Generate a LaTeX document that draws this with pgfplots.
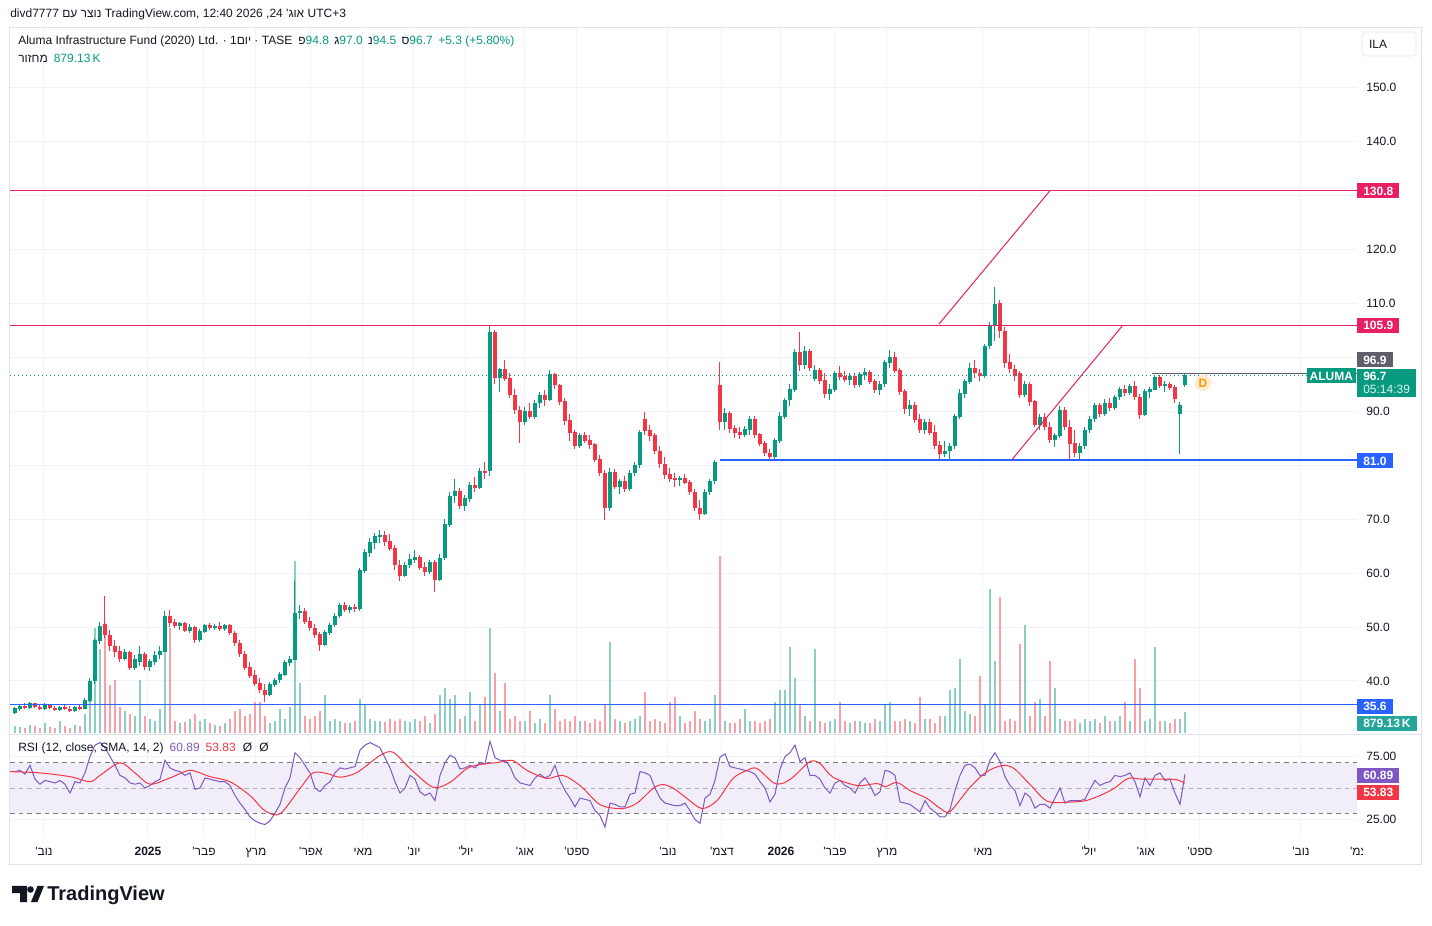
\documentclass[border=0pt]{standalone}
\usepackage{fontspec}
\setmainfont{Liberation Sans}
\newfontfamily\hebfont[Script=Hebrew]{Liberation Sans}
\usepackage{pgfplots}
\pgfplotsset{compat=1.18}
\usepackage{pgfplotstable}
\TeXXeTstate=1
\newcommand{\heb}[1]{{\hebfont\beginR #1\endR}}
\newcommand{\fnt}{\fontsize{9}{11}\selectfont}
\definecolor{upc}{RGB}{8,153,129}
\definecolor{dnc}{RGB}{242,54,69}
\definecolor{vupc}{RGB}{140,206,195}
\definecolor{vdnc}{RGB}{249,160,167}
\definecolor{pinkc}{RGB}{233,30,99}
\definecolor{bluec}{RGB}{41,98,255}
\definecolor{gridc}{RGB}{240,243,250}
\definecolor{framec}{RGB}{224,227,235}
\definecolor{txtc}{RGB}{19,23,34}
\definecolor{rsic}{RGB}{126,87,194}
\definecolor{bandc}{RGB}{242,238,249}
\definecolor{dashc}{RGB}{120,123,134}
\definecolor{grayc}{RGB}{93,96,107}
\definecolor{tealc}{RGB}{38,166,154}
\definecolor{orangec}{RGB}{255,152,0}

\pgfplotstableread{
x o h l c v r
15 34.2 35.2 33.8 34.9 300 63
20 34.9 35.6 34.5 35.3 250 64
25 35.3 35.9 34.8 35.0 200 61
30 35.0 36.1 34.9 35.9 350 68
35 35.9 36.0 35.0 35.2 300 57
40 35.2 35.5 34.6 34.8 200 53
45 34.8 35.9 34.7 35.7 400 56
50 35.6 35.8 34.9 35.0 250 55
55 35.0 35.4 34.5 34.7 200 54
60 34.7 35.4 34.4 35.2 500 56
65 35.2 35.6 34.6 34.8 300 53
70 34.8 35.3 34.2 34.5 200 46
75 34.5 35.4 34.3 35.1 350 55
80 35.1 35.5 34.6 34.9 300 54
85 34.9 36.8 34.8 36.4 800 62
90 36.4 40.5 36.2 40.0 1500 75
95 40.0 48.0 39.5 47.5 4400 84
100 47.5 51.0 46.8 50.2 3500 86
105 50.5 55.8 48.0 48.5 4600 82
110 48.5 49.5 45.5 46.5 2000 75
115 46.5 47.5 44.5 45.5 2200 68
120 45.5 46.5 43.5 44.2 1100 60
125 44.2 46.0 43.8 45.3 900 58
130 45.3 45.6 42.0 42.5 800 54
135 42.5 44.8 42.0 44.0 700 53
140 43.5 46.5 42.8 45.0 2200 54
145 45.0 45.3 42.0 42.6 700 50
150 42.6 44.0 41.8 43.6 600 52
155 43.6 45.5 43.0 44.8 500 55
160 44.8 46.5 44.0 45.5 1000 57
165 45.5 53.0 45.3 52.0 4400 72
170 52.0 53.2 50.0 50.8 4400 66
175 50.8 51.5 49.8 50.2 500 64
180 50.2 51.0 49.5 50.6 400 63
185 50.6 51.0 49.0 49.4 450 60
190 49.4 50.5 48.8 50.0 600 62
195 50.0 50.2 47.0 47.6 800 49
200 47.6 49.6 47.3 49.2 500 50
205 49.2 50.6 48.8 50.3 600 58
210 50.3 50.8 49.4 49.8 400 57
215 49.8 50.6 49.5 50.2 350 56
220 50.2 50.9 49.2 49.6 300 55
225 49.6 50.6 49.3 50.3 400 55
230 50.3 50.5 48.6 48.9 600 52
235 48.9 49.3 46.5 47.0 900 44
240 47.0 47.5 44.5 45.0 1000 38
245 45.0 45.5 42.0 42.5 700 33
250 42.5 43.5 40.5 41.0 800 27
255 41.0 42.0 39.0 39.5 1300 24
260 39.5 40.5 37.8 38.3 1300 22
265 38.3 39.5 36.2 37.5 700 21
270 37.5 39.8 37.2 39.4 400 24
275 39.4 40.6 38.8 40.2 500 30
280 40.2 41.6 39.6 41.2 1000 37
285 41.2 43.8 41.0 43.4 600 50
290 43.4 44.6 42.8 44.0 1100 58
295 44.0 58.5 43.8 52.6 7200 78
300 52.6 54.0 51.5 53.0 2100 74
305 53.0 53.5 50.5 51.0 700 68
310 51.0 51.8 49.2 49.8 600 62
315 49.8 50.5 48.0 48.6 700 50
320 48.6 49.0 45.6 46.8 900 47
325 46.8 49.5 46.5 49.0 1600 52
330 49.0 50.8 48.6 50.4 500 55
335 50.4 52.5 50.0 52.0 600 62
340 52.0 54.5 51.6 54.0 500 66
345 54.0 54.6 52.8 53.2 400 65
350 53.2 54.0 52.6 53.6 400 66
355 53.6 54.2 52.8 53.4 500 67
360 53.4 61.0 53.0 60.5 1400 80
365 60.5 64.5 60.0 63.8 1200 84
370 63.8 66.5 63.0 65.6 600 86
375 65.6 67.5 64.5 66.8 500 84
380 66.8 68.0 65.5 67.0 500 82
385 67.0 67.8 65.0 65.8 450 74
390 65.8 67.2 64.0 64.5 600 66
395 64.5 65.2 60.5 61.5 500 55
400 61.5 62.5 58.5 59.5 600 46
405 59.5 62.0 59.2 61.5 500 50
410 61.5 63.5 61.0 62.5 450 60
415 62.5 64.2 61.8 63.0 600 57
420 63.0 63.4 60.5 61.0 500 47
425 61.0 62.0 59.5 60.3 700 44
430 60.3 62.5 59.8 62.0 400 46
435 62.0 62.4 56.5 58.8 800 40
440 58.8 63.5 58.5 62.8 1600 60
445 62.8 70.0 62.5 69.0 1900 70
450 69.0 75.0 68.5 74.3 1400 76
455 74.3 77.5 73.0 75.2 1600 74
460 75.2 75.8 71.8 72.4 600 65
465 72.4 74.5 71.5 73.8 700 66
470 73.8 76.8 73.2 76.2 1700 68
475 76.2 77.8 75.0 75.8 500 66
480 75.8 79.5 75.5 78.8 1200 70
485 78.8 80.5 77.5 78.5 1500 69
490 79.0 106.0 78.0 104.5 4400 87
495 104.5 105.0 95.0 96.2 2500 74
500 96.2 98.0 93.6 97.8 900 72
505 97.8 99.5 95.5 96.0 2100 72
510 96.0 97.0 92.5 93.0 600 67
515 93.0 94.0 89.5 90.2 700 58
520 90.2 91.0 84.0 88.0 500 54
525 88.0 90.8 87.5 90.0 500 53
530 90.0 91.5 88.5 89.0 900 52
535 89.0 92.0 88.6 91.5 400 58
540 91.5 93.6 90.5 93.0 600 61
545 93.0 93.8 91.0 92.0 400 58
550 92.0 97.6 91.8 96.8 1600 60
555 96.8 97.0 94.0 94.8 1000 68
560 94.8 95.0 91.2 91.8 500 56
565 91.8 92.5 87.5 88.2 600 48
570 88.2 89.5 84.5 86.0 500 42
575 86.0 86.5 83.0 83.5 700 35
580 83.5 86.0 83.2 85.5 500 42
585 85.5 86.2 84.0 84.5 500 41
590 84.5 85.5 83.0 83.8 400 40
595 83.8 84.0 80.5 81.0 600 32
600 81.0 81.8 78.0 78.5 500 28
605 78.5 79.0 69.8 72.0 1200 19
610 72.0 79.5 71.5 78.6 3800 38
615 78.6 79.2 75.5 76.0 600 37
620 76.0 77.5 74.6 77.0 500 35
625 77.0 78.0 75.0 75.6 400 35
630 75.6 79.0 75.2 78.5 500 45
635 78.5 80.6 78.0 80.0 600 46
640 80.0 86.5 79.5 86.0 700 63
645 88.5 89.8 85.5 86.4 1700 62
650 86.4 87.5 84.5 85.5 500 60
655 85.5 86.0 82.0 82.6 600 50
660 82.6 83.5 79.5 80.2 500 42
665 80.2 81.5 77.5 78.2 400 38
670 78.2 79.5 76.8 77.5 1300 37
675 77.5 78.5 76.0 77.2 1500 36
680 77.2 78.0 76.2 77.6 700 36
685 77.6 78.3 76.4 76.8 400 38
690 76.8 77.2 74.5 75.0 500 32
695 75.0 75.5 71.5 72.0 900 25
700 72.0 73.5 69.8 71.0 600 22
705 71.0 75.5 70.8 75.0 500 42
710 75.0 77.5 74.5 77.0 600 45
715 77.0 81.0 76.5 80.5 1600 56
720 94.8 99.0 86.5 88.0 7400 74.5
725 88.0 90.5 86.5 89.5 500 77
730 89.5 90.0 86.0 86.8 400 67
735 86.8 87.5 85.0 86.0 400 66
740 86.0 87.0 84.8 85.6 600 65
745 85.6 87.2 85.2 86.6 1000 64
750 86.6 89.0 85.5 88.5 500 63
755 88.5 89.0 85.0 85.6 500 61
760 85.6 86.0 83.5 84.0 400 55
765 84.0 84.5 81.6 82.2 500 50
770 82.2 83.0 81.0 81.6 600 39
775 81.6 85.0 81.2 84.5 1300 45
780 84.5 89.8 84.0 89.0 1800 65
785 89.0 92.5 88.5 92.0 1800 75
790 92.0 95.0 91.0 94.0 3600 78
795 94.0 101.5 93.5 100.8 2300 84
800 100.8 104.6 97.5 98.5 1200 71
805 98.5 102.0 97.8 101.0 700 74
810 101.0 101.5 97.5 98.0 500 60
815 96.0 98.6 95.5 97.6 3500 60
820 97.6 98.0 95.0 95.6 500 57
825 95.6 97.0 92.5 93.2 400 50
830 93.2 95.0 92.0 94.0 500 46
835 94.0 97.5 93.5 97.0 600 54
840 97.0 98.3 95.8 96.4 1300 56
845 96.4 97.4 95.4 95.8 500 52
850 95.8 97.0 94.8 96.5 400 50
855 96.5 97.0 94.2 94.8 500 46
860 94.8 97.2 94.5 96.8 500 54
865 96.8 98.0 95.8 97.2 400 58
870 97.2 97.6 95.0 95.5 400 52
875 95.5 96.0 93.3 94.0 600 44
880 94.0 95.5 93.0 95.0 500 47
885 95.0 99.5 94.5 99.0 1200 64
890 99.0 101.3 98.0 100.0 1300 63
895 100.0 101.0 97.0 97.5 500 60
900 97.5 98.0 93.0 93.6 500 39
905 93.6 94.0 89.5 90.4 600 38
910 90.4 92.0 89.0 91.0 500 37
915 91.0 91.6 87.8 88.4 400 34
920 88.4 89.5 86.0 86.6 1500 31
925 86.6 88.5 85.8 88.0 600 40
930 88.0 88.6 85.5 86.0 600 34
935 86.0 87.5 83.0 83.6 400 31
940 83.6 84.5 81.2 82.0 700 27
945 82.0 84.5 81.5 82.6 700 27
950 82.6 84.0 81.0 83.5 1800 33
955 83.5 89.5 83.0 89.0 1900 48
960 89.0 94.0 88.5 93.2 3100 60
965 93.2 96.0 92.5 95.5 900 68
970 95.5 98.8 95.0 98.0 800 69
975 98.0 99.5 96.2 97.0 700 66
980 97.0 97.8 95.5 96.5 2400 60
985 96.5 102.5 96.2 102.0 1200 60
990 102.0 106.5 101.5 105.8 6000 72
995 105.8 113.0 103.0 109.8 3000 78
1000 110.0 110.5 103.5 104.8 5700 71
1005 104.8 105.5 98.0 99.0 500 59
1010 99.0 100.5 97.0 97.8 600 52
1015 97.8 98.5 95.5 96.5 500 48
1020 97.0 97.5 92.5 93.0 3700 36
1025 93.0 95.6 92.6 95.0 4500 46
1030 95.0 95.4 91.0 91.8 700 43
1035 91.8 92.0 87.0 87.5 1300 34
1040 87.5 89.5 86.5 88.8 1400 37
1045 88.8 89.6 86.5 87.0 700 37
1050 87.0 88.0 84.0 84.6 3000 34
1055 84.6 86.0 83.3 85.5 1900 42
1060 85.5 91.0 85.0 90.2 600 50
1065 90.2 90.8 86.5 87.0 500 38
1070 87.0 88.3 81.0 84.0 500 40
1075 84.0 86.5 81.5 82.2 600 40
1080 82.2 84.0 81.2 83.5 400 40
1085 83.5 87.0 83.0 86.5 600 41
1090 86.5 89.0 86.0 88.5 500 49
1095 88.5 91.5 88.0 91.0 600 56
1100 91.0 91.5 88.8 89.5 400 52
1105 89.5 92.3 89.0 91.5 700 54
1110 91.5 92.5 90.0 90.6 500 55
1115 90.6 93.0 90.2 92.6 500 60
1120 92.6 94.5 92.0 94.0 700 59
1125 94.0 94.8 92.8 93.4 1300 60
1130 93.4 95.0 93.0 94.6 500 62
1135 94.6 95.5 92.0 92.6 3100 55
1140 92.6 93.2 88.5 89.4 1900 43
1145 89.4 94.0 89.0 93.6 500 58
1150 93.6 94.5 92.5 94.0 600 52
1155 94.0 96.5 93.8 96.2 3600 60
1160 96.2 96.6 94.2 94.6 500 62
1165 94.6 95.5 93.6 95.0 500 56
1170 95.0 95.4 93.8 94.4 400 57
1175 94.4 94.8 91.5 92.2 600 46
1180 89.5 91.6 82.0 91.0 600 37
1185 94.8 97.0 94.5 96.7 879 60.89
}\candles

\pgfplotstableread{
x s
10 63
40 62
70 59
90 55
100 60
120 70
135 62
150 53
170 58
190 64
210 59
230 55
250 44
265 32
280 29.5
300 49.6
313 62
327 61.5
340 58.6
357 62.3
380 75.8
393 78.4
410 65.5
433 50.6
450 54.5
467 65.5
480 68.6
500 70.5
513 71.8
527 64
547 57.6
563 60
580 52
597 38.5
607 34.8
623 33.7
637 38
653 49.6
662 52.8
673 50
687 41.7
702 33.7
717 40
733 57.6
747 64
757 65.5
773 54.4
782 53.5
793 58.6
810 71
820 69.4
833 58.6
857 52
877 53.5
885 51
897 54.4
910 48
927 41.7
940 34
950 31.3
969 49.6
986 62.5
1002 67.8
1014 65.5
1031 52
1048 39.3
1073 39
1086 40
1100 44
1114 49.6
1128 57.6
1142 57
1162 57
1176 56.7
1185 53.83
}\sma

\pgfplotsset{
  cbar/.style 2 args={draw=none, mark=none, forget plot,
    error bars/.cd, y dir=both, y explicit, error mark=none,
    error bar style={draw=#1, solid, line width=#2, line cap=butt}},
  panel/.style={at={(7.5pt,144pt)}, anchor=south west, scale only axis,
    width=1010.25pt, height=528.75pt, xmin=10, xmax=1357},
}
\tikzset{
  lbl/.style={font=\fnt\bfseries, text=white, inner xsep=4.5pt, inner ysep=0pt,
    minimum height=11.25pt, text height=6.5pt, text depth=0pt, anchor=west},
}

\begin{document}
\begin{tikzpicture}
\begin{scope}[x=0.75pt,y=0.75pt]
\fill[white] (0,0) rectangle (1432,925);
\end{scope}

% grid + price scale
\begin{axis}[panel, ymin=30.37, ymax=160.93,
  axis line style={draw=none}, major tick length=0pt, tick style={draw=none},
  xtick={44,148,204,256,311,363,414,466,525,577,668,722,781,835,887,983,1089,1146,1200,1301},
  xticklabels={},
  ytick={40,50,60,70,90,110,120,140,150},
  yticklabels={40.0,50.0,60.0,70.0,90.0,110.0,120.0,140.0,150.0},
  extra y ticks={80,100,130}, extra y tick labels={},
  extra y tick style={grid=major},
  yticklabel pos=right,
  yticklabel style={font=\fnt, text=txtc, anchor=west, xshift=3.5pt},
  xmajorgrids, ymajorgrids, grid style={gridc, line width=0.75pt}]
\addplot[draw=none, forget plot] coordinates {(10,40)};
\end{axis}

% volume
\begin{axis}[panel, ymin=0, ymax=29450, hide axis]
\addplot[cbar={vupc}{1.5pt}] table[x=x, y expr={\thisrow{c}>=\thisrow{o} ? 0.5*\thisrow{v} : nan}, y error expr={0.5*\thisrow{v}}] {\candles};
\addplot[cbar={vdnc}{1.5pt}] table[x=x, y expr={\thisrow{c}<\thisrow{o} ? 0.5*\thisrow{v} : nan}, y error expr={0.5*\thisrow{v}}] {\candles};
\end{axis}

% price
\begin{axis}[panel, ymin=30.37, ymax=160.93, hide axis, clip mode=individual]
\addplot[cbar={upc}{0.75pt}] table[x=x, y expr={\thisrow{c}>=\thisrow{o} ? 0.5*(\thisrow{h}+\thisrow{l}) : nan}, y error expr={0.5*(\thisrow{h}-\thisrow{l})}] {\candles};
\addplot[cbar={dnc}{0.75pt}] table[x=x, y expr={\thisrow{c}<\thisrow{o} ? 0.5*(\thisrow{h}+\thisrow{l}) : nan}, y error expr={0.5*(\thisrow{h}-\thisrow{l})}] {\candles};
\addplot[cbar={upc}{2.6pt}] table[x=x, y expr={\thisrow{c}>=\thisrow{o} ? 0.5*(\thisrow{o}+\thisrow{c}) : nan}, y error expr={0.5*abs(\thisrow{c}-\thisrow{o})+0.05}] {\candles};
\addplot[cbar={dnc}{2.6pt}] table[x=x, y expr={\thisrow{c}<\thisrow{o} ? 0.5*(\thisrow{o}+\thisrow{c}) : nan}, y error expr={0.5*abs(\thisrow{c}-\thisrow{o})+0.05}] {\candles};
% levels
\addplot[pinkc, line width=0.75pt] coordinates {(10,130.8)(1357,130.8)};
\addplot[pinkc, line width=0.75pt] coordinates {(10,105.9)(1357,105.9)};
\addplot[bluec, line width=1.5pt] coordinates {(720,81.0)(1357,81.0)};
\addplot[bluec, line width=0.75pt] coordinates {(10,35.6)(1357,35.6)};
\addplot[pinkc, line width=0.75pt] coordinates {(939,106.1)(1050,130.8)};
\addplot[pinkc, line width=0.75pt] coordinates {(1012,81.0)(1122,105.7)};
\addplot[upc, line width=0.9pt, dash pattern=on 0.9pt off 2.1pt] coordinates {(10,96.6)(1311,96.6)};
\addplot[grayc, line width=0.75pt] coordinates {(1152,96.9)(1357,96.9)};
% marker
\node[circle, fill=orangec!18, text=orangec, font=\fnt\bfseries, inner sep=1.2pt] at (axis cs:1203,95.2) {D};
% price labels
\node[lbl, fill=pinkc] at (axis cs:1357,130.8) {130.8};
\node[lbl, fill=pinkc] at (axis cs:1357,105.9) {105.9};
\node[lbl, fill=grayc] at (axis cs:1357,99.5) {96.9};
\node[lbl, fill=upc, anchor=east, inner xsep=2pt] at (axis cs:1356,96.5) {ALUMA};
\node[fill=upc, text=white, anchor=north west, align=left, inner xsep=4.5pt, inner ysep=2.5pt, font=\fnt] at (axis cs:1357,97.78) {\textbf{96.7}\\[-1.5pt]{\color{white!88!upc}05:14:39}};
\node[lbl, fill=bluec] at (axis cs:1357,80.8) {81.0};
\node[lbl, fill=bluec] at (axis cs:1357,35.3) {35.6};
\node[lbl, fill=tealc] at (axis cs:1357,32.1) {879.13\,K};
\end{axis}

% RSI
\begin{axis}[at={(7.5pt,64.95pt)}, anchor=south west, scale only axis,
  width=1010.25pt, height=75.6pt, xmin=10, xmax=1357, ymin=10, ymax=90,
  clip mode=individual,
  axis line style={draw=none}, major tick length=0pt, tick style={draw=none},
  xtick={44,148,204,256,311,363,414,466,525,577,668,722,781,835,887,983,1089,1146,1200,1301},
  xticklabels={\heb{נוב'},\textbf{2025},\heb{פבר'},\heb{מרץ},\heb{אפר'},\heb{מאי},\heb{יונ'},\heb{יול'},\heb{אוג'},\heb{ספט'},\heb{נוב'},\heb{דצמ'},\textbf{2026},\heb{פבר'},\heb{מרץ},\heb{מאי},\heb{יול'},\heb{אוג'},\heb{ספט'},\heb{נוב'}},
  xticklabel style={font=\fnt, text=txtc, anchor=center, yshift=-9.45pt, text height=6.5pt, text depth=0pt},
  ytick={25,75}, yticklabels={25.00,75.00}, yticklabel pos=right,
  yticklabel style={font=\fnt, text=txtc, anchor=west, xshift=3.5pt},
  xmajorgrids, ymajorgrids, grid style={gridc, line width=0.75pt}]
\addplot[fill=bandc, draw=none, forget plot] coordinates {(10,30)(1357,30)(1357,70)(10,70)(10,30)};
\addplot[dashc, line width=0.75pt, dash pattern=on 3.5pt off 3pt] coordinates {(10,70)(1357,70)};
\addplot[dashc!60, line width=0.75pt, dash pattern=on 3.5pt off 3pt] coordinates {(10,50)(1357,50)};
\addplot[dashc, line width=0.75pt, dash pattern=on 3.5pt off 3pt] coordinates {(10,30)(1357,30)};
\addplot[rsic, line width=0.75pt] table[x=x, y=r] {\candles};
\addplot[dnc, line width=0.75pt, smooth, tension=0.5] table[x=x, y=s] {\sma};
\node[lbl, fill=rsic] at (axis cs:1357,59.9) {60.89};
\node[lbl, fill=dnc] at (axis cs:1357,46.4) {53.83};
\end{axis}

\begin{scope}[x=0.75pt,y=0.75pt]
% frame and separators
\draw[framec, line width=0.75pt] (9.5,60.5) rectangle (1421.5,897.5);
\draw[framec, line width=0.75pt] (9.5,190) -- (1421.5,190);
% clipped last month label
\begin{scope}
\clip (1330,60) rectangle (1362,90);
\node[font=\fnt, text=txtc, text height=6.5pt, text depth=0pt] at (1362,74) {\heb{דצמ'}};
\end{scope}
% header
\node[anchor=west, font=\fnt, text=txtc, inner sep=0pt] at (10,911) {divd7777 \heb{נוצר עם} TradingView.com, 12:40 2026 ,24 \heb{אוג'} UTC+3};
\node[anchor=west, font=\fnt, text=txtc, inner sep=0pt] at (18,884) {Aluma Infrastructure Fund (2020) Ltd. · 1\heb{יום} · TASE\hspace{0.5em}\heb{פ}\textcolor{upc}{94.8}\hspace{0.45em}\heb{ג}\textcolor{upc}{97.0}\hspace{0.45em}\heb{נ}\textcolor{upc}{94.5}\hspace{0.45em}\heb{ס}\textcolor{upc}{96.7}\hspace{0.45em}\textcolor{upc}{+5.3 (+5.80\%)}};
\node[anchor=west, font=\fnt, text=txtc, inner sep=0pt] at (18,867) {\heb{מחזור}\hspace{0.5em}\textcolor{upc}{879.13\,K}};
\node[anchor=west, font=\fnt, text=txtc, inner sep=0pt] at (18,177) {RSI (12, close, SMA, 14, 2)\hspace{0.5em}\textcolor{rsic}{60.89}\hspace{0.5em}\textcolor{dnc}{53.83}\hspace{0.6em}Ø\hspace{0.6em}Ø};
% ILA box
\draw[framec, fill=white, rounded corners=3pt] (1362,893) rectangle (1416,869);
\node[font=\fnt, text=txtc] at (1378,881) {ILA};
% logo
\fill[txtc] (12,39) -- (27,39) -- (27,23) -- (20,23) -- (20,32) -- (12,32) -- cycle;
\fill[txtc] (30.5,35.5) circle (3.3);
\fill[txtc] (31,23) -- (37.5,39) -- (44,39) -- (37.5,23) -- cycle;
\node[anchor=west, font=\fontsize{15}{17}\selectfont\bfseries, text=txtc, inner sep=0pt] at (47,30) {TradingView};
\end{scope}
\end{tikzpicture}
\end{document}
